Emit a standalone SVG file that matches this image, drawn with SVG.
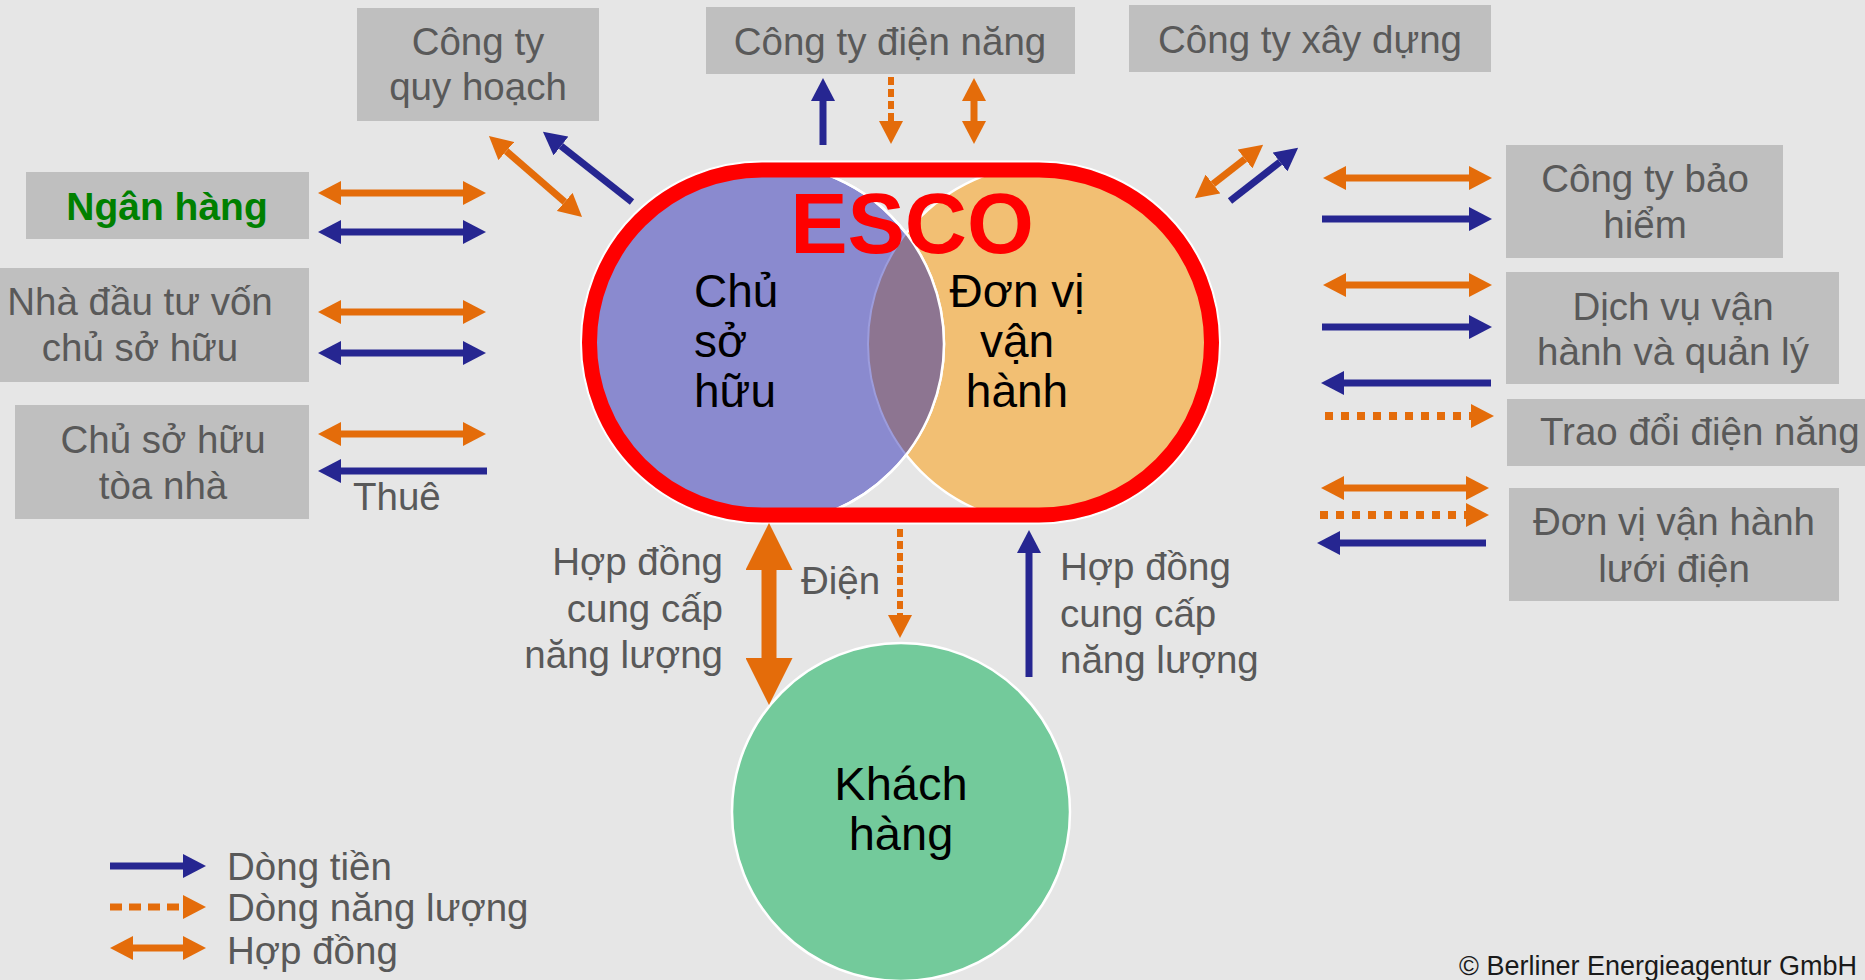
<svg xmlns="http://www.w3.org/2000/svg" width="1865" height="980" viewBox="0 0 1865 980">
<style>
text{font-family:"Liberation Sans",Arial,sans-serif}
.box{fill:#bfbfbf}
.lbl{font-size:38.5px;fill:#595959}
.mid{text-anchor:middle}
.end{text-anchor:end}
.dark{font-size:46px;fill:#000}
.b{stroke:#262691;stroke-width:7;fill:none}
.o{stroke:#e46c0a;stroke-width:7;fill:none}
.od{stroke:#e46c0a;stroke-width:8;fill:none;stroke-dasharray:8 8}
.ods{stroke:#e46c0a;stroke-width:6;fill:none;stroke-dasharray:8 4}
.be{marker-end:url(#hb)}
.oe{marker-end:url(#ho)}
.oo{marker-start:url(#ho);marker-end:url(#ho)}
.bb{marker-start:url(#hb);marker-end:url(#hb)}
</style>
<defs>
<marker id="hb" markerUnits="userSpaceOnUse" markerWidth="23" markerHeight="24" refX="0" refY="12" orient="auto-start-reverse"><path d="M0,0 L23,12 L0,24 z" fill="#262691"/></marker>
<marker id="ho" markerUnits="userSpaceOnUse" markerWidth="23" markerHeight="24" refX="0" refY="12" orient="auto-start-reverse"><path d="M0,0 L23,12 L0,24 z" fill="#e46c0a"/></marker>
<marker id="hobig" markerUnits="userSpaceOnUse" markerWidth="47" markerHeight="47" refX="0" refY="23.5" orient="auto-start-reverse"><path d="M0,0 L47,23.5 L0,47 z" fill="#e46c0a"/></marker>
<clipPath id="stad"><rect x="589.5" y="170" width="622" height="345" rx="172.5" ry="172.5"/></clipPath>
<clipPath id="blueC"><circle cx="763" cy="344" r="181"/></clipPath>
</defs>
<rect width="1865" height="980" fill="#e6e6e6"/>

<g id="esco">
<g clip-path="url(#stad)">
<circle cx="1048" cy="344" r="180" fill="#f2bf73" stroke="#fff" stroke-width="2.5"/>
<circle cx="763" cy="344" r="181" fill="#8a8acf" stroke="#fff" stroke-width="2.5"/>
<g clip-path="url(#blueC)">
<circle cx="1048" cy="344" r="180" fill="#8d7591" stroke="#9c9cdc" stroke-width="2"/>
</g>
<circle cx="763" cy="344" r="181" fill="none" stroke="#fff" stroke-width="2.5"/>
</g>
<rect x="581" y="161.5" width="639" height="362" rx="181" ry="181" fill="none" stroke="#fff" stroke-width="2"/>
<rect x="589.5" y="170" width="622" height="345" rx="172.5" ry="172.5" fill="none" stroke="#ff0000" stroke-width="15"/>
<text x="912" y="253" class="mid" style="font-size:86px;font-weight:bold;fill:#ff0000">ESCO</text>
</g>
<g id="owner">
<text class="dark" x="694" y="307">Chủ</text>
<text class="dark" x="694" y="357">sở</text>
<text class="dark" x="694" y="407">hữu</text>
</g>
<g id="operator">
<text class="dark mid" x="1017" y="307">Đơn vị</text>
<text class="dark mid" x="1017" y="357">vận</text>
<text class="dark mid" x="1017" y="407">hành</text>
</g>

<g id="customer">
<circle cx="901" cy="812" r="169" fill="#73ca9b" stroke="#fff" stroke-width="2.5"/>
<text class="mid" x="901" y="800" style="font-size:47px;fill:#000">Khách</text>
<text class="mid" x="901" y="850" style="font-size:47px;fill:#000">hàng</text>
</g>

<g id="planning"><rect class="box" x="357" y="8" width="242" height="113"/>
<text class="lbl mid" x="478" y="55">Công ty</text><text class="lbl mid" x="478" y="100">quy hoạch</text></g>
<g id="utility"><rect class="box" x="706" y="7" width="369" height="67"/>
<text class="lbl mid" x="890" y="55">Công ty điện năng</text></g>
<g id="construction"><rect class="box" x="1129" y="5" width="362" height="67"/>
<text class="lbl mid" x="1310" y="53">Công ty xây dựng</text></g>
<g id="bank"><rect class="box" x="26" y="172" width="283" height="67"/>
<text class="mid" x="167" y="220" style="font-size:39px;font-weight:bold;fill:#008000">Ngân hàng</text></g>
<g id="investor"><rect class="box" x="0" y="268" width="309" height="114"/>
<text class="lbl mid" x="140" y="315">Nhà đầu tư vốn</text><text class="lbl mid" x="140" y="361">chủ sở hữu</text></g>
<g id="building-owner"><rect class="box" x="15" y="405" width="294" height="114"/>
<text class="lbl mid" x="163" y="453">Chủ sở hữu</text><text class="lbl mid" x="163" y="499">tòa nhà</text></g>
<g id="insurance"><rect class="box" x="1506" y="145" width="277" height="113"/>
<text class="lbl mid" x="1645" y="192">Công ty bảo</text><text class="lbl mid" x="1645" y="238">hiểm</text></g>
<g id="om-service"><rect class="box" x="1506" y="272" width="333" height="112"/>
<text class="lbl mid" x="1673" y="320">Dịch vụ vận</text><text class="lbl mid" x="1673" y="365">hành và quản lý</text></g>
<g id="energy-exchange"><rect class="box" x="1507" y="399" width="358" height="67"/>
<text class="lbl" x="1540" y="445">Trao đổi điện năng</text></g>
<g id="grid-operator"><rect class="box" x="1509" y="488" width="330" height="113"/>
<text class="lbl mid" x="1674" y="535">Đơn vị vận hành</text><text class="lbl mid" x="1674" y="582">lưới điện</text></g>

<g id="connectors">
<line class="o oo" x1="341" y1="193" x2="463" y2="193"/>
<line class="b bb" x1="341" y1="232" x2="463" y2="232"/>
<line class="o oo" x1="341" y1="312" x2="463" y2="312"/>
<line class="b bb" x1="341" y1="353" x2="463" y2="353"/>
<line class="o oo" x1="341" y1="434" x2="463" y2="434"/>
<line class="b be" x1="487" y1="471" x2="341" y2="471"/>

<line class="o oo" x1="1346" y1="178" x2="1469" y2="178"/>
<line class="b be" x1="1322" y1="219" x2="1469" y2="219"/>
<line class="o oo" x1="1346" y1="285" x2="1469" y2="285"/>
<line class="b be" x1="1322" y1="327" x2="1469" y2="327"/>
<line class="b be" x1="1491" y1="383" x2="1344" y2="383"/>
<line class="od oe" x1="1325" y1="416" x2="1471" y2="416"/>
<line class="o oo" x1="1344" y1="488" x2="1466" y2="488"/>
<line class="od oe" x1="1320" y1="515" x2="1466" y2="515"/>
<line class="b be" x1="1486" y1="543" x2="1340" y2="543"/>

<line class="b be" x1="823" y1="145" x2="823" y2="101"/>
<line class="ods oe" x1="891" y1="77" x2="891" y2="121"/>
<line class="o oo" x1="974" y1="101" x2="974" y2="121"/>

<line class="o oo" x1="506.3" y1="151.1" x2="564.7" y2="201.9"/>
<line class="b be" x1="632" y1="202" x2="561" y2="146"/>
<line class="o oo" x1="1213" y1="184" x2="1245" y2="159"/>
<line class="b be" x1="1230" y1="201" x2="1280" y2="162"/>

<line x1="769" y1="570" x2="769" y2="658" stroke="#e46c0a" stroke-width="15" marker-start="url(#hobig)" marker-end="url(#hobig)"/>
<line class="ods oe" x1="900" y1="529" x2="900" y2="615"/>
<line class="b be" x1="1029" y1="677" x2="1029" y2="553"/>

<text class="lbl" x="353" y="510">Thuê</text>
<text class="lbl" x="801" y="594">Điện</text>
<text class="lbl end" x="723" y="575">Hợp đồng</text>
<text class="lbl end" x="723" y="622">cung cấp</text>
<text class="lbl end" x="723" y="668">năng lượng</text>
<text class="lbl" x="1060" y="580">Hợp đồng</text>
<text class="lbl" x="1060" y="627">cung cấp</text>
<text class="lbl" x="1060" y="673">năng lượng</text>
</g>

<g id="legend">
<line class="b be" x1="110" y1="866" x2="183" y2="866"/>
<line x1="110" y1="907" x2="183" y2="907" stroke="#e46c0a" stroke-width="7" stroke-dasharray="12 7" marker-end="url(#ho)"/>
<line class="o oo" x1="133" y1="948" x2="183" y2="948"/>
<text class="lbl" x="227" y="880">Dòng tiền</text>
<text class="lbl" x="227" y="921">Dòng năng lượng</text>
<text class="lbl" x="227" y="964">Hợp đồng</text>
</g>
<text x="1459" y="975" style="font-size:27px;fill:#1a1a1a">©  Berliner Energieagentur GmbH</text>
</svg>
